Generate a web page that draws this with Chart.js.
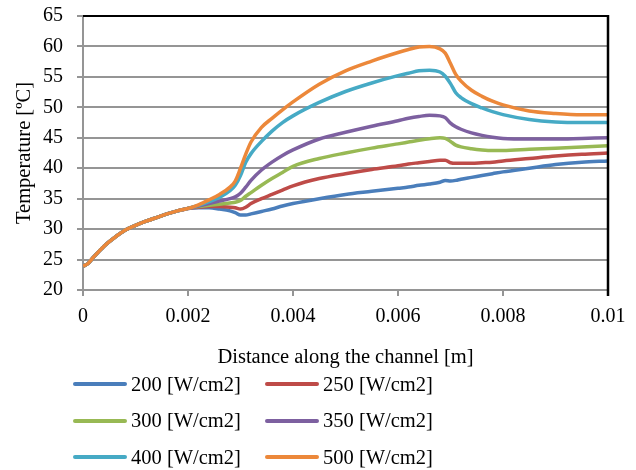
<!DOCTYPE html>
<html>
<head>
<meta charset="utf-8">
<script src="https://cdn.jsdelivr.net/npm/chart.js@4.4.1/dist/chart.umd.min.js"></script>
<style>
  html, body { margin:0; padding:0; background:#fff; }
  #wrap { position:relative; width:636px; height:470px; }
  #legend { position:absolute; left:73px; top:366px; font-family:'Liberation Serif', serif; font-size:20.5px; color:#000; }
  .lg-item { position:absolute; width:192px; height:36px; display:flex; align-items:center; white-space:nowrap; }
  .lg-line { width:54px; height:4px; border-radius:2px; margin-right:4px; }
</style>
</head>
<body>
<div id="wrap">
  <canvas id="tempChart" width="636" height="470"></canvas>
  <div id="legend"></div>
</div>
<script>
'use strict';

/* ── DATA ──────────────────────────────────── */
const distance = [0, 0.0001, 0.0002, 0.0004, 0.0006, 0.0008, 0.001, 0.0012, 0.0014, 0.0016, 0.0018, 0.002,
  0.0022, 0.0024, 0.0026, 0.0028, 0.0029, 0.003, 0.0031, 0.0032, 0.0034, 0.0036, 0.0038, 0.004,
  0.0045, 0.005, 0.0055, 0.006, 0.0062, 0.0064, 0.0066, 0.0068, 0.0069, 0.007, 0.0071, 0.0072,
  0.0074, 0.0076, 0.0078, 0.008, 0.0085, 0.009, 0.0095, 0.01];

const inlet = [23.9, 24.4, 25.4, 27.2, 28.6, 29.8, 30.6, 31.3, 31.9, 32.5, 33.0, 33.4];

const t200 = inlet.concat([33.5, 33.5, 33.3, 33.0, 32.7, 32.3, 32.3, 32.5, 32.9, 33.3, 33.8, 34.2,
  35.0, 35.7, 36.2, 36.7, 36.9, 37.2, 37.4, 37.7, 38.0, 37.9, 38.0, 38.2,
  38.5, 38.8, 39.1, 39.4, 40.0, 40.6, 41.0, 41.2]);
const t250 = inlet.concat([33.6, 33.7, 33.7, 33.6, 33.5, 33.3, 33.6, 34.2, 35.0, 35.7, 36.4, 37.1,
  38.3, 39.1, 39.8, 40.4, 40.7, 40.9, 41.1, 41.3, 41.3, 40.9, 40.8, 40.8,
  40.8, 40.9, 41.0, 41.2, 41.6, 42.0, 42.3, 42.5]);
const t300 = inlet.concat([33.7, 33.9, 34.1, 34.3, 34.4, 34.7, 35.4, 36.0, 37.2, 38.3, 39.3, 40.3,
  41.6, 42.5, 43.3, 44.0, 44.3, 44.6, 44.85, 45.0, 44.9, 44.4, 43.8, 43.5,
  43.2, 43.0, 42.9, 42.9, 43.1, 43.3, 43.5, 43.7]);
const t350 = inlet.concat([33.8, 34.2, 34.6, 35.0, 35.3, 35.9, 36.9, 38.0, 39.7, 41.0, 42.1, 43.0,
  44.8, 45.9, 46.9, 47.8, 48.2, 48.5, 48.7, 48.6, 48.3, 47.4, 46.8, 46.4,
  45.8, 45.4, 45.1, 44.9, 44.8, 44.8, 44.9, 45.0]);
const t400 = inlet.concat([33.9, 34.5, 35.2, 36.3, 37.2, 38.8, 41.0, 42.4, 44.4, 46.1, 47.5, 48.6,
  50.8, 52.6, 54.0, 55.2, 55.6, 56.0, 56.1, 55.8, 55.1, 53.9, 52.4, 51.6,
  50.6, 49.9, 49.3, 48.8, 48.0, 47.6, 47.5, 47.5]);
const t500 = inlet.concat([34.0, 34.8, 35.7, 36.9, 37.9, 40.0, 42.3, 44.3, 46.7, 48.2, 49.6, 50.9,
  53.8, 56.0, 57.6, 59.0, 59.5, 59.9, 60.0, 59.6, 58.9, 57.2, 55.4, 54.3,
  52.8, 51.8, 51.0, 50.4, 49.4, 49.0, 48.8, 48.8]);

const seriesNames  = ['200 [W/cm2]', '250 [W/cm2]', '300 [W/cm2]', '350 [W/cm2]', '400 [W/cm2]', '500 [W/cm2]'];
const seriesValues = [t200, t250, t300, t350, t400, t500];
const seriesColors = ['#4A7EBB', '#BE4B48', '#98B954', '#7D60A0', '#46AAC5', '#EC883A'];

const xTicks = [0, 0.002, 0.004, 0.006, 0.008, 0.01];
const yTicks = [20, 25, 30, 35, 40, 45, 50, 55, 60, 65];

/* ── CHART ─────────────────────────────────── */
const FONT = 'Liberation Serif';
const GRID = '#959595';

const frame = {
  id: 'frame',
  afterDatasetsDraw(chart) {
    const { ctx, chartArea: a } = chart;
    ctx.save();
    ctx.strokeStyle = '#000';
    ctx.lineWidth = 2;
    ctx.beginPath();
    ctx.moveTo(a.left, a.top); ctx.lineTo(a.right + 1, a.top);
    ctx.stroke();
    ctx.lineWidth = 2.5;
    ctx.beginPath();
    ctx.moveTo(a.right, a.top - 1); ctx.lineTo(a.right, a.bottom + 6);
    ctx.stroke();
    ctx.restore();
  }
};

const datasets = seriesNames.map((name, i) => ({
  label: name,
  data: distance.map((x, j) => ({ x, y: seriesValues[i][j] })),
  borderColor: seriesColors[i],
  backgroundColor: seriesColors[i],
  borderWidth: 3.5,
  pointRadius: 0,
  cubicInterpolationMode: 'monotone',
  order: seriesNames.length - i,
}));

new Chart(document.getElementById('tempChart'), {
  type: 'line',
  data: { datasets },
  plugins: [frame],
  options: {
    responsive: false,
    animation: false,
    events: [],
    layout: { padding: { left: 8, right: 28, top: 16, bottom: 96 } },
    plugins: { legend: { display: false }, tooltip: { enabled: false } },
    scales: {
      x: {
        type: 'linear', min: 0, max: 0.01,
        afterBuildTicks: s => { s.ticks = xTicks.map(v => ({ value: v })); },
        afterFit: s => { s.height = 84; },
        grid: { display: true, drawOnChartArea: false, color: GRID, lineWidth: 2, tickLength: 6 },
        border: { color: GRID, width: 2 },
        ticks: { color: '#000', font: { family: FONT, size: 20 }, padding: 9, maxRotation: 0,
                 callback: v => String(v) },
        title: { display: true, text: 'Distance along the channel [m]', color: '#000',
                 font: { family: FONT, size: 20.5 }, padding: { top: 4, bottom: 4 } },
      },
      y: {
        min: 20, max: 65,
        afterBuildTicks: s => { s.ticks = yTicks.map(v => ({ value: v })); },
        afterFit: s => { s.width = 75; s.paddingTop = 0; s.paddingBottom = 0; },
        grid: { color: GRID, lineWidth: 2, tickLength: 6 },
        border: { color: GRID, width: 2 },
        ticks: { color: '#000', font: { family: FONT, size: 20 }, padding: 14 },
        title: { display: true, text: 'Temperature [ºC]', color: '#000',
                 font: { family: FONT, size: 20.5 }, padding: { top: 4, bottom: 4 } },
      },
    },
  },
});

/* ── LEGEND ────────────────────────────────── */
document.getElementById('legend').innerHTML = seriesNames.map((n, i) =>
  `<div class="lg-item" style="left:${(i % 2) * 192}px;top:${Math.floor(i / 2) * 36.5}px">` +
  `<span class="lg-line" style="background:${seriesColors[i]}"></span>${n}</div>`).join('');
</script>
</body>
</html>
